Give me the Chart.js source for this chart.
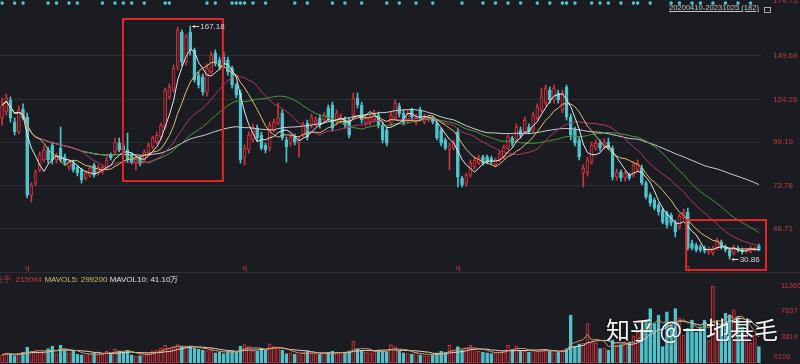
<!DOCTYPE html>
<html>
<head>
<meta charset="utf-8">
<script src="https://cdn.jsdelivr.net/npm/chart.js@4.4.0/dist/chart.umd.min.js"></script>
<style>
  html, body { margin: 0; padding: 0; background: #1a1c22; overflow: hidden; }
  #wrap { position: relative; width: 800px; height: 364px; font-family: "Liberation Sans", Arial, sans-serif; }
  #pbox { position: absolute; left: 0; top: 0; width: 800px; height: 272px; }
  #vbox { position: absolute; left: 0; top: 272px; width: 800px; height: 92px; border-top: 1px solid #2a2d35; box-sizing: border-box; }
  #range { position: absolute; left: 669px; top: 3px; font-size: 7.6px; color: #c8c8c8; text-decoration: underline; white-space: nowrap; }
  #lock { position: absolute; left: 764px; top: 7px; width: 5px; height: 4px; border: 1px solid #aaa; }
  #vleg { position: absolute; left: -5px; top: 274px; font-size: 8px; white-space: nowrap; }
  #x100 { position: absolute; left: 773px; top: 352px; font-size: 7.5px; color: #c23a40; }
  #mark { position: absolute; left: 606px; top: 314px; font-size: 24px; line-height: 30px; color: #f4f4f4;
          font-family: "Noto Sans CJK SC", sans-serif; text-shadow: 0 0 3px rgba(0,0,0,.6); white-space: nowrap; }
</style>
</head>
<body>
<div id="wrap">
  <div id="pbox"><canvas id="price" width="800" height="272"></canvas></div>
  <div id="vbox"><canvas id="vol" width="800" height="91"></canvas></div>
  <div id="range">20200410-20231025 (182)</div>
  <div id="lock"></div>
  <div id="vleg"><span style="color:#c8393f">总手: 215094</span> <span style="color:#c4c26a">MAVOL5: 299200</span> <span style="color:#e0e0e0">MAVOL10: 41.10万</span></div>
  <div id="x100">X100</div>
  <div id="mark">知乎 @一地基毛</div>
</div>
<script>
// weekly candles, 2020-04-10 .. 2023-10-25
const weeks = [];
for (let i = 0; i < 182; i++) {
  const d = new Date(2020, 3, 10 + 7 * i);
  weeks.push(d.getFullYear() + '-' + (d.getMonth() + 1) + '-' + d.getDate());
}

const open = [
  113.4,116.9,123.9,111.0,105.2,118.6,114.0,68.3,75.3,83.0,
  88.8,94.7,97.6,88.8,95.8,90.6,84.7,87.0,84.7,83.0,
  78.3,80.0,85.9,81.2,81.8,84.1,91.7,93.5,98.7,97.0,
  94.7,91.7,87.0,90.0,88.8,92.9,96.4,99.3,102.3,108.1,
  125.7,129.7,143.2,163.7,146.1,163.7,153.2,138.5,137.4,128.0,
  140.3,151.4,147.3,149.0,147.3,142.6,132.7,128.0,90.0,94.7,
  100.5,107.5,103.4,97.6,95.8,106.3,110.4,116.3,100.5,98.7,
  102.3,98.7,103.4,110.4,109.3,110.4,113.4,112.2,119.2,121.0,
  111.0,112.2,112.2,112.2,115.1,125.1,121.0,110.4,111.0,112.2,
  115.1,109.3,106.3,110.4,113.4,120.4,116.3,112.2,118.1,111.0,
  118.1,111.0,112.2,113.4,110.4,106.3,100.5,94.7,95.8,105.2,
  78.3,75.3,80.0,84.7,87.0,90.6,90.6,90.0,85.9,88.8,
  90.6,95.8,101.7,100.5,106.3,105.2,108.1,106.3,113.4,118.1,
  122.1,129.7,123.9,128.0,118.1,131.5,114.0,106.3,100.5,81.2,
  81.2,87.6,95.8,98.7,96.4,99.3,95.8,78.8,81.8,78.3,
  80.0,80.0,83.0,84.1,75.3,68.3,65.4,62.5,59.6,57.8,
  56.6,52.0,49.6,54.9,58.4,40.2,39.1,37.9,37.3,35.0,
  34.4,37.3,40.8,37.9,36.2,34.4,37.3,36.2,35.6,35.0,
  36.2,38.5
];
const high = [
  125.1,127.4,125.7,113.4,120.4,121.6,116.3,75.3,83.0,93.5,
  97.0,96.4,99.3,92.9,108.1,92.3,88.8,88.8,85.9,84.1,
  82.4,85.3,87.0,85.9,85.9,90.6,92.9,101.7,101.7,98.2,
  104.6,92.9,91.1,91.1,94.7,98.7,102.8,105.2,110.4,130.9,
  133.3,144.4,166.6,164.9,162.5,167.18,154.3,140.3,139.1,145.0,
  152.0,153.2,149.0,152.0,149.0,143.8,133.8,129.7,97.6,105.2,
  109.9,109.3,105.2,98.7,111.0,112.8,122.1,118.1,102.3,104.0,
  104.0,102.3,111.0,112.2,115.7,114.0,115.1,116.9,121.0,122.7,
  118.1,115.7,114.0,113.4,128.0,128.0,122.7,115.1,115.7,118.1,
  116.9,111.0,108.1,116.9,123.9,122.1,118.1,118.1,119.2,115.7,
  119.8,115.7,114.5,114.5,112.2,107.5,101.7,98.7,100.5,107.5,
  79.4,81.2,88.8,90.6,91.7,91.7,91.7,91.1,90.0,94.1,
  97.6,103.4,102.8,109.9,108.1,114.0,109.9,116.9,121.6,130.9,
  132.7,131.5,132.7,129.7,129.7,132.7,115.7,108.1,102.3,85.9,
  90.6,99.3,100.5,100.5,101.1,101.7,97.0,83.5,83.0,82.4,
  81.2,87.6,88.8,85.9,76.5,69.5,66.6,63.6,60.7,59.0,
  57.8,53.7,57.2,60.1,60.7,42.0,40.2,39.1,38.5,37.9,
  38.5,43.2,42.0,39.1,37.3,39.1,38.5,37.3,37.3,38.5,
  37.9,39.7
];
const low = [
  109.3,115.1,111.0,103.4,104.0,112.2,66.6,64.2,73.6,81.8,
  87.6,87.0,86.5,87.0,87.6,85.9,83.0,81.8,79.4,75.3,
  77.1,78.8,78.8,80.0,80.6,83.0,88.8,92.3,93.5,92.9,
  87.6,86.5,83.0,85.3,87.6,91.7,95.2,98.2,101.1,106.9,
  124.5,128.6,141.5,143.8,144.4,150.2,134.4,130.9,126.8,126.2,
  139.1,143.8,141.5,142.6,138.5,130.9,125.1,87.0,85.9,92.9,
  99.3,99.9,94.7,92.9,94.1,105.2,109.3,100.5,87.6,97.0,
  97.6,90.6,102.3,100.5,107.5,108.7,107.5,110.4,111.6,105.8,
  109.3,110.4,107.5,101.7,113.4,119.2,110.4,108.7,109.3,111.0,
  107.5,98.7,97.0,108.7,112.2,114.0,109.3,110.4,112.2,109.3,
  111.6,109.9,111.0,109.9,100.5,97.0,94.7,83.0,94.7,73.0,
  73.0,73.6,78.8,83.5,85.9,85.9,86.5,86.5,84.7,87.6,
  89.4,94.7,97.0,99.3,101.7,104.0,104.0,105.2,112.2,116.9,
  120.4,122.1,122.1,122.1,116.3,112.2,100.5,97.0,88.8,73.0,
  79.4,86.5,94.7,94.1,95.2,94.7,77.1,77.1,76.5,76.5,
  77.1,78.8,81.8,74.2,66.0,61.9,59.6,56.6,51.4,49.0,
  50.2,43.8,48.4,53.7,36.2,36.2,35.0,35.0,34.4,33.8,
  33.2,36.2,36.7,35.0,30.86,33.2,35.0,33.8,34.4,34.4,
  35.6,35.6
];
const close = [
  121.0,125.1,113.4,105.2,118.1,113.4,68.3,74.2,81.8,91.7,
  94.7,88.8,88.8,91.7,88.8,87.6,87.6,83.0,81.2,77.1,
  81.2,84.1,80.0,84.7,84.7,88.8,90.0,99.3,94.7,94.7,
  88.8,87.6,90.0,86.5,93.5,97.6,101.7,103.4,109.3,129.7,
  131.5,142.6,164.9,146.1,161.3,153.2,135.6,132.7,128.6,142.6,
  150.2,145.5,143.2,144.4,140.3,132.7,126.8,88.8,95.8,103.4,
  107.5,101.7,95.8,94.7,109.3,111.0,113.4,101.7,96.4,102.3,
  99.3,100.5,109.3,102.3,114.0,112.2,109.3,115.1,113.4,107.5,
  116.3,114.0,109.3,103.4,125.1,121.0,112.2,113.4,114.0,116.3,
  109.3,100.5,98.7,115.1,122.1,115.7,111.0,116.3,114.0,114.0,
  113.4,114.0,113.4,111.0,101.7,98.7,95.8,97.6,99.3,78.8,
  74.2,80.0,87.0,88.8,90.0,87.0,87.6,87.6,88.8,92.9,
  96.4,102.3,98.7,108.1,103.4,112.2,105.2,115.1,119.8,125.7,
  130.9,123.9,130.9,123.9,128.0,114.0,103.4,98.7,90.6,84.1,
  88.8,97.6,98.7,95.8,99.3,95.8,78.8,81.8,78.3,81.2,
  78.3,85.9,87.0,75.3,67.2,63.6,60.7,58.4,52.5,50.8,
  52.0,46.7,56.0,58.4,37.3,37.3,36.2,36.2,35.6,36.7,
  37.3,42.0,37.9,36.2,32.6,37.9,36.2,35.0,36.7,37.3,
  36.7,36.2
];
// volume, unit x100
const volume = [
  1200,1500,1300,1100,1400,1600,2300,1700,1800,1600,
  1500,2100,2500,1400,2600,1900,1500,1800,1300,1200,
  1100,1300,1500,1400,1300,1700,1500,2000,1800,1600,
  1900,1200,1000,1100,1300,1500,1800,1900,2200,2600,
  2200,2500,2700,2400,2300,2500,2200,2000,1900,1800,
  1900,1500,1600,1400,1700,1800,1600,2500,2700,2400,
  1800,1700,2200,1900,2800,2400,2100,1900,1400,1500,
  1300,1200,1600,1700,1500,1400,1300,1500,1600,1700,
  1500,1400,1600,1800,3200,2100,1800,1600,1500,1700,
  1900,1800,1600,2700,2400,1700,1500,1400,1300,1600,
  1200,1100,1000,1200,1500,1700,1600,2600,1800,2400,
  1900,2200,2600,2000,1700,1600,1500,1400,1500,1600,
  1800,2600,2000,2500,1800,1700,1600,1800,1700,1900,
  2000,1700,1500,1600,1900,2100,7000,2400,2800,2900,
  5800,3000,2900,2100,2200,1900,3400,2600,2700,3000,
  3100,4000,4500,5000,6100,8000,5800,7000,2400,7500,
  5600,8000,6600,4100,5100,6300,4500,5300,6300,3300,
  11300,4800,5300,7300,7000,7800,6800,5300,4400,2900,
  4100,2400
];

const priceTicks = [48.71, 73.78, 99.19, 124.26, 149.68];
const topPriceLabel = '174.75';
const volTicks = [3819, 7637, 11365];
const eventMarks = [0,3,5,11,13,16,18,24,27,29,31,34,39,40,49,51,55,56,57,58,60,63,
  70,73,79,82,86,92,95,99,103,110,115,118,121,124,
  128,131,134,135,137,141,143,145,148,151,152,155,160,162,165,167,170,173,176,179];
const reportMarks = [6, 58, 109, 164];
const boxes = [
  { from: 28.9, to: 52.8, top: 171.3, bottom: 76.5 },
  { from: 163.6, to: 182.7, top: 53.7, bottom: 24.5 }
];

const RED = '#d2343e', RED_FILL = '#3a1a20', CYAN = '#52c2cb';
const up = close.map((c, i) => c >= open[i]);
const fill = up.map(u => u ? RED_FILL : CYAN);
const edge = up.map(u => u ? RED : CYAN);

function ma(arr, n) {
  return arr.map((_, i) => {
    const s = arr.slice(Math.max(0, i - n + 1), i + 1);
    return s.reduce((a, b) => a + b, 0) / s.length;
  });
}

const line = (data, color, order) => ({
  type: 'line', data, borderColor: color, borderWidth: 1, pointRadius: 0, tension: 0, order
});

// right axis: fixed width, no extra top/bottom room for the labels
function fitRight(s) {
  s.width = 39;
  s.paddingTop = 0;
  s.paddingBottom = 0;
}

const overlay = {
  id: 'overlay',
  afterDatasetsDraw(chart) {
    const { ctx, scales: { x, y } } = chart;
    ctx.save();
    ctx.strokeStyle = '#e3262b';
    ctx.lineWidth = 2;
    boxes.forEach(b => {
      const x1 = x.getPixelForValue(b.from), x2 = x.getPixelForValue(b.to);
      const y1 = y.getPixelForValue(b.top), y2 = y.getPixelForValue(b.bottom);
      ctx.strokeRect(x1, y1, x2 - x1, y2 - y1);
    });

    ctx.font = '8px "Liberation Sans", Arial';
    ctx.textBaseline = 'middle';
    ctx.fillStyle = '#d6d6d6';
    ctx.strokeStyle = '#d6d6d6';
    ctx.lineWidth = 1;
    const iMax = high.indexOf(Math.max(...high));
    const iMin = low.indexOf(Math.min(...low));
    [[iMax, high[iMax]], [iMin, low[iMin]]].forEach(([i, v]) => {
      const px = x.getPixelForValue(i) + 2, py = Math.round(y.getPixelForValue(v)) + 0.5;
      ctx.beginPath(); ctx.moveTo(px, py); ctx.lineTo(px + 7, py); ctx.stroke();
      ctx.beginPath(); ctx.moveTo(px, py); ctx.lineTo(px + 2.5, py - 1.8); ctx.lineTo(px + 2.5, py + 1.8); ctx.fill();
      ctx.fillText(v.toFixed(2), px + 8, py);
    });

    ctx.fillStyle = RED;
    ctx.textAlign = 'center';
    reportMarks.forEach(i => ctx.fillText('q', x.getPixelForValue(i), y.getPixelForValue(25.9)));

    ctx.textAlign = 'left';
    ctx.fillStyle = '#c23a40';
    ctx.fillText(topPriceLabel, y.left + 12, y.top + 1);
    ctx.restore();
  }
};

new Chart(document.getElementById('price'), {
  data: {
    labels: weeks,
    datasets: [
      { type: 'line', data: weeks.map((_, i) => eventMarks.includes(i) ? 180.6 : null), showLine: false,
        pointRadius: 1.8, pointBackgroundColor: CYAN, pointBorderWidth: 0, order: 0 },
      line(ma(close, 5), '#e8e8e8', 1),
      line(ma(close, 10), '#e0c173', 2),
      line(ma(close, 20), '#b8366a', 3),
      line(ma(close, 30), '#4c9a3d', 3),
      line(ma(close, 60), '#cfcfcf', 3),
      { type: 'bar', data: open.map((o, i) => [o, close[i]]), backgroundColor: fill, borderColor: edge,
        borderWidth: 1, borderSkipped: false, barThickness: 3, minBarLength: 1, grouped: false, order: 5 },
      { type: 'bar', data: low.map((l, i) => [l, high[i]]), backgroundColor: edge,
        barThickness: 1, grouped: false, order: 6 }
    ]
  },
  options: {
    responsive: false, animation: false,
    layout: { padding: 0, autoPadding: false },
    plugins: { legend: { display: false }, tooltip: { enabled: false } },
    scales: {
      x: { display: false, offset: true },
      y: {
        position: 'right', min: 23.3, max: 182.4,
        afterFit: fitRight,
        afterBuildTicks(s) { s.ticks = priceTicks.map(v => ({ value: v })); },
        ticks: { color: '#c23a40', font: { size: 8, family: '"Liberation Sans", Arial' }, padding: 12,
                 callback: v => v.toFixed(2) },
        grid: { color: '#2a2d35', drawTicks: false },
        border: { display: false }
      }
    }
  },
  plugins: [overlay]
});

new Chart(document.getElementById('vol'), {
  data: {
    labels: weeks,
    datasets: [
      line(ma(volume, 5), '#d09a5c', 1),
      line(ma(volume, 10), '#e6d2c4', 2),
      { type: 'bar', data: volume, backgroundColor: fill, borderColor: edge, borderWidth: 1,
        borderSkipped: false, barThickness: 3, grouped: false, order: 5 }
    ]
  },
  options: {
    responsive: false, animation: false,
    layout: { padding: { bottom: 1 }, autoPadding: false },
    plugins: { legend: { display: false }, tooltip: { enabled: false } },
    scales: {
      x: { display: false, offset: true },
      y: {
        position: 'right', min: 0, max: 13212,
        afterFit: fitRight,
        afterBuildTicks(s) { s.ticks = volTicks.map(v => ({ value: v })); },
        ticks: { color: '#c23a40', font: { size: 7.5, family: '"Liberation Sans", Arial' }, padding: 12,
                 callback: v => String(v) },
        grid: { display: false },
        border: { display: false }
      }
    }
  }
});
</script>
</body>
</html>
